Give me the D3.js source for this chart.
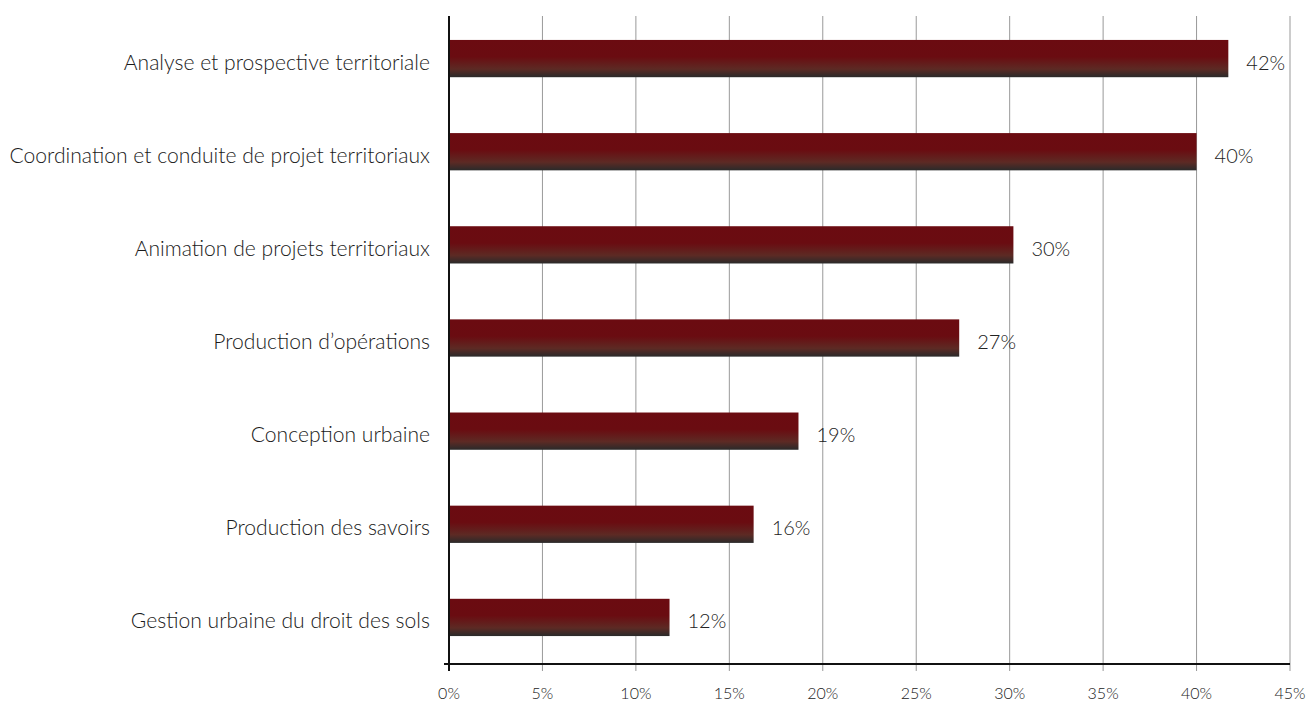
<!DOCTYPE html>
<html>
<head>
<meta charset="utf-8">
<script src="https://cdn.jsdelivr.net/npm/d3@7"></script>
<style>
  body { margin: 0; background: #fff; }
  text { font-family: "Lato", "Open Sans", sans-serif; font-weight: 300; }
</style>
</head>
<body>
<svg width="1307" height="701"></svg>
<script>
var categories = [
  "Analyse et prospective territoriale",
  "Coordination et conduite de projet territoriaux",
  "Animation de projets territoriaux",
  "Production d\u2019op\u00e9rations",
  "Conception urbaine",
  "Production des savoirs",
  "Gestion urbaine du droit des sols"
];
var values = [41.7, 40.0, 30.2, 27.3, 18.7, 16.3, 11.8];
var valueLabels = ["42%", "40%", "30%", "27%", "19%", "16%", "12%"];
var ticks = [0, 5, 10, 15, 20, 25, 30, 35, 40, 45];

var svg = d3.select("svg");

var x = d3.scaleLinear().domain([0, 45]).range([449, 1290]);
var y = d3.scaleBand().domain(categories).range([12, 664]).paddingInner(0.6).paddingOuter(0.3);

// gradient for the bars
var grad = svg.append("defs").append("linearGradient")
  .attr("id", "barGrad").attr("x1", 0).attr("y1", 0).attr("x2", 0).attr("y2", 1);
grad.append("stop").attr("offset", "0%").attr("stop-color", "#6b0b11");
grad.append("stop").attr("offset", "45%").attr("stop-color", "#6a0c11");
grad.append("stop").attr("offset", "78%").attr("stop-color", "#5d2a24");
grad.append("stop").attr("offset", "100%").attr("stop-color", "#2a2a2a");

// grid lines
svg.append("g").selectAll("line")
  .data(ticks.slice(1))
  .enter().append("line")
  .attr("x1", function(d) { return x(d); })
  .attr("x2", function(d) { return x(d); })
  .attr("y1", 16).attr("y2", 671)
  .attr("stroke", "#999").attr("stroke-width", 1);

// bars
svg.append("g").selectAll("rect")
  .data(values)
  .enter().append("rect")
  .attr("x", x(0))
  .attr("y", function(d, i) { return y(categories[i]); })
  .attr("width", function(d) { return x(d) - x(0); })
  .attr("height", y.bandwidth())
  .attr("fill", "url(#barGrad)");

// value labels
svg.append("g").selectAll("text")
  .data(values)
  .enter().append("text")
  .attr("x", function(d) { return x(d) + 18; })
  .attr("y", function(d, i) { return y(categories[i]) + y.bandwidth() / 2 + 11; })
  .attr("font-size", 20)
  .attr("fill", "#222")
  .text(function(d, i) { return valueLabels[i]; });

// category labels
svg.append("g").selectAll("text")
  .data(categories)
  .enter().append("text")
  .attr("x", 430)
  .attr("y", function(d) { return y(d) + y.bandwidth() / 2 + 11; })
  .attr("text-anchor", "end")
  .attr("font-size", 21.1)
  .attr("fill", "#1a1a1a")
  .text(function(d) { return d; });

// axes
svg.append("line")
  .attr("x1", x(0)).attr("x2", x(0)).attr("y1", 16).attr("y2", 671)
  .attr("stroke", "#111").attr("stroke-width", 2);
svg.append("line")
  .attr("x1", 444).attr("x2", x(45)).attr("y1", 664).attr("y2", 664)
  .attr("stroke", "#111").attr("stroke-width", 2);

// tick labels
svg.append("g").selectAll("text")
  .data(ticks)
  .enter().append("text")
  .attr("x", function(d) { return x(d); })
  .attr("y", 699)
  .attr("text-anchor", "middle")
  .attr("font-size", 16)
  .attr("fill", "#222")
  .text(function(d) { return d + "%"; });
</script>
</body>
</html>
